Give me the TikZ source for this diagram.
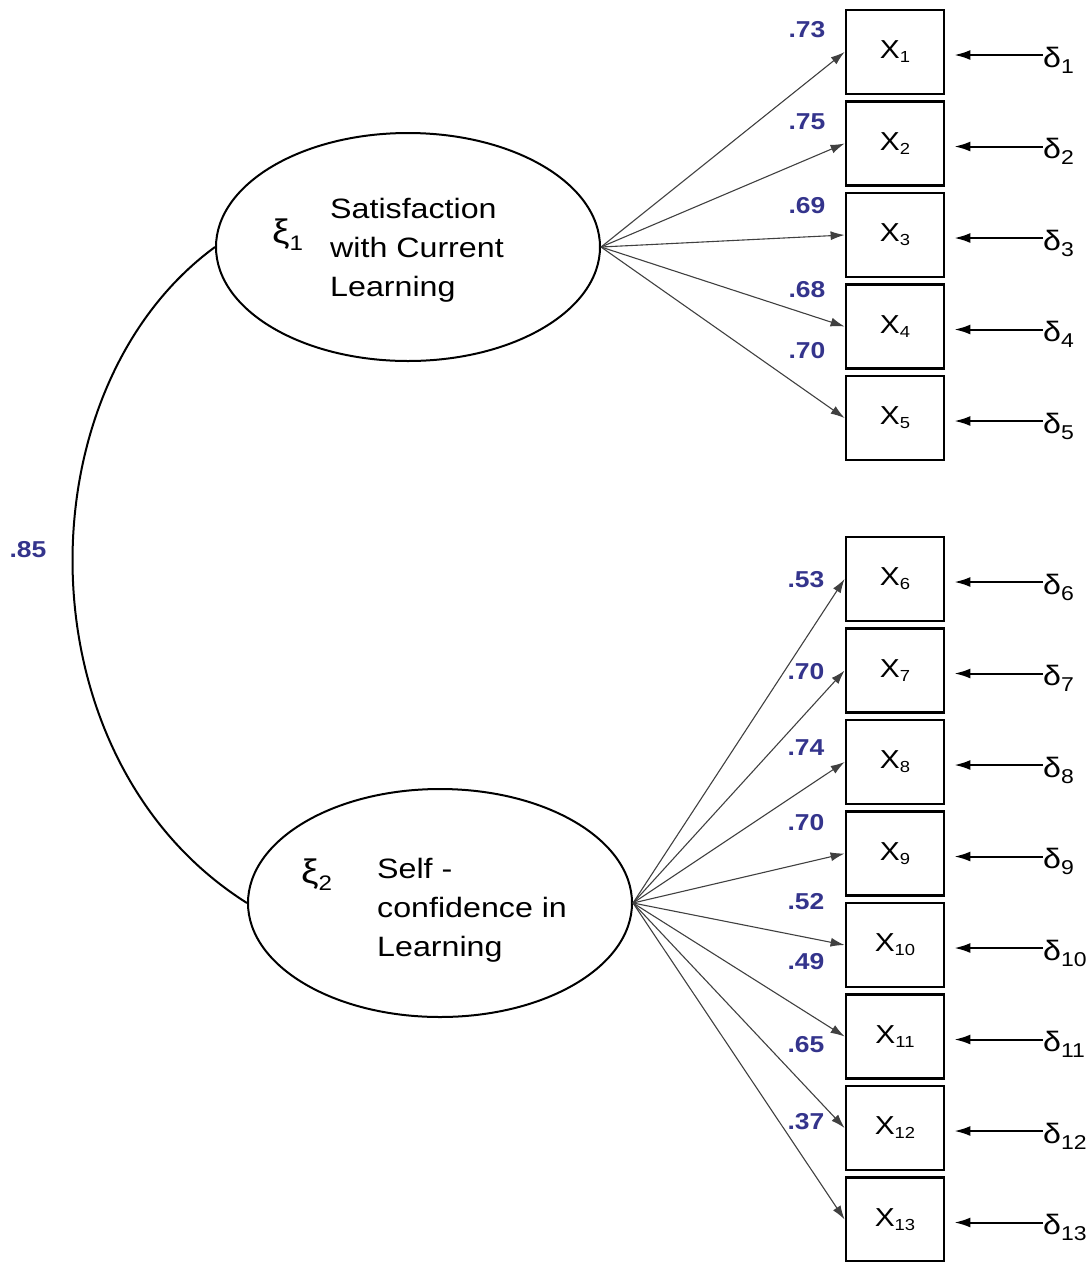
\documentclass[tikz,border=0pt]{standalone}
\usepackage{fontspec}
\setmainfont[FakeStretch=1.15]{Liberation Sans}
\usepackage{xcolor}
\definecolor{load-blue}{HTML}{34348C}
\definecolor{path-gray}{HTML}{404040}
\usepackage{tikz}
\usetikzlibrary{shapes.geometric,arrows.meta}

\newcommand{\xsub}[1]{\raisebox{-4pt}{\fontsize{16}{16}\selectfont #1}}
\newcommand{\dsub}[1]{\raisebox{-6pt}{\fontsize{20}{20}\selectfont #1}}
\newcommand{\fsub}[1]{\raisebox{-7pt}{\fontsize{21}{21}\selectfont #1}}

\tikzset{
    latent/.style={draw, ellipse, line width=2pt, minimum width=384pt, minimum height=228pt, inner sep=0},
    indicator/.style={draw, line width=2.8pt, minimum width=98pt, minimum height=84pt, inner sep=0, font=\fontsize{26}{26}\selectfont},
    errlabel/.style={anchor=west, inner sep=0, text height=24pt, text depth=0pt, font=\fontsize{28}{28}\selectfont},
    coef/.style={text=load-blue, inner sep=0, font=\bfseries\fontsize{23}{23}\selectfont},
    loading/.style={draw=path-gray, line width=1.1pt, -{Latex[length=14pt,width=9pt]}},
    errpath/.style={line width=2pt, -{Latex[length=16pt,width=10pt]}, shorten >=9pt},
    factorname/.style={anchor=west, align=left, inner sep=0, font=\fontsize{28}{39}\selectfont},
    factorsym/.style={anchor=base west, inner sep=0, font=\fontsize{34}{34}\selectfont}
}

\begin{document}
\begin{tikzpicture}[x=1pt, y=-1pt]

    \useasboundingbox (0, 0) rectangle (1092, 1262);

    % Factors
    \node[latent] (f1) at (408, 247) {};
    \node[latent] (f2) at (440, 903) {};
    \node[factorsym] (s1) at (272, 243) {ξ\fsub{1}};
    \node[factorsym] (s2) at (301, 883) {ξ\fsub{2}};
    \node[factorname] (n1) at (330, 250) {Satisfaction\\with Current\\Learning};
    \node[factorname] (n2) at (377, 910) {Self -\\confidence in\\Learning};

    % Correlation
    \draw[line width=2pt] (f1.west) .. controls (20, 390) and (20, 760) .. (f2.west);
    \node[coef] (corr) at (28, 550) {.85};

    % Indicators
    \node[indicator] (x1) at (895, 52) {X\xsub{1}};
    \node[indicator] (x2) at (895, 143.5) {X\xsub{2}};
    \node[indicator] (x3) at (895, 235) {X\xsub{3}};
    \node[indicator] (x4) at (895, 326.5) {X\xsub{4}};
    \node[indicator] (x5) at (895, 418) {X\xsub{5}};
    \node[indicator] (x6) at (895, 579) {X\xsub{6}};
    \node[indicator] (x7) at (895, 670.5) {X\xsub{7}};
    \node[indicator] (x8) at (895, 762) {X\xsub{8}};
    \node[indicator] (x9) at (895, 853.5) {X\xsub{9}};
    \node[indicator] (x10) at (895, 945) {X\xsub{10}};
    \node[indicator] (x11) at (895, 1036.5) {X\xsub{11}};
    \node[indicator] (x12) at (895, 1128) {X\xsub{12}};
    \node[indicator] (x13) at (895, 1219.5) {X\xsub{13}};

    % Errors
    \node[errlabel] (d1) at (1043, 55) {δ\dsub{1}};
    \node[errlabel] (d2) at (1043, 146.5) {δ\dsub{2}};
    \node[errlabel] (d3) at (1043, 238) {δ\dsub{3}};
    \node[errlabel] (d4) at (1043, 329.5) {δ\dsub{4}};
    \node[errlabel] (d5) at (1043, 421) {δ\dsub{5}};
    \node[errlabel] (d6) at (1043, 582) {δ\dsub{6}};
    \node[errlabel] (d7) at (1043, 673.5) {δ\dsub{7}};
    \node[errlabel] (d8) at (1043, 765) {δ\dsub{8}};
    \node[errlabel] (d9) at (1043, 856.5) {δ\dsub{9}};
    \node[errlabel] (d10) at (1043, 948) {δ\dsub{10}};
    \node[errlabel] (d11) at (1043, 1039.5) {δ\dsub{11}};
    \node[errlabel] (d12) at (1043, 1131) {δ\dsub{12}};
    \node[errlabel] (d13) at (1043, 1222.5) {δ\dsub{13}};

    \draw[errpath] (d1.west) -- (d1.west -| x1.east);
    \draw[errpath] (d2.west) -- (d2.west -| x2.east);
    \draw[errpath] (d3.west) -- (d3.west -| x3.east);
    \draw[errpath] (d4.west) -- (d4.west -| x4.east);
    \draw[errpath] (d5.west) -- (d5.west -| x5.east);
    \draw[errpath] (d6.west) -- (d6.west -| x6.east);
    \draw[errpath] (d7.west) -- (d7.west -| x7.east);
    \draw[errpath] (d8.west) -- (d8.west -| x8.east);
    \draw[errpath] (d9.west) -- (d9.west -| x9.east);
    \draw[errpath] (d10.west) -- (d10.west -| x10.east);
    \draw[errpath] (d11.west) -- (d11.west -| x11.east);
    \draw[errpath] (d12.west) -- (d12.west -| x12.east);
    \draw[errpath] (d13.west) -- (d13.west -| x13.east);

    % Loadings
    \draw[loading] (f1.east) -- (x1.west);
    \draw[loading] (f1.east) -- (x2.west);
    \draw[loading] (f1.east) -- (x3.west);
    \draw[loading] (f1.east) -- (x4.west);
    \draw[loading] (f1.east) -- (x5.west);
    \draw[loading] (f2.east) -- (x6.west);
    \draw[loading] (f2.east) -- (x7.west);
    \draw[loading] (f2.east) -- (x8.west);
    \draw[loading] (f2.east) -- (x9.west);
    \draw[loading] (f2.east) -- (x10.west);
    \draw[loading] (f2.east) -- (x11.west);
    \draw[loading] (f2.east) -- (x12.west);
    \draw[loading] (f2.east) -- (x13.west);

    \node[coef] (c1) at (807, 30) {.73};
    \node[coef] (c2) at (807, 122) {.75};
    \node[coef] (c3) at (807, 206) {.69};
    \node[coef] (c4) at (807, 290) {.68};
    \node[coef] (c5) at (807, 351) {.70};
    \node[coef] (c6) at (806, 580) {.53};
    \node[coef] (c7) at (806, 672) {.70};
    \node[coef] (c8) at (806, 748) {.74};
    \node[coef] (c9) at (806, 823) {.70};
    \node[coef] (c10) at (806, 902) {.52};
    \node[coef] (c11) at (806, 962) {.49};
    \node[coef] (c12) at (806, 1045) {.65};
    \node[coef] (c13) at (806, 1122) {.37};

\end{tikzpicture}
\end{document}
